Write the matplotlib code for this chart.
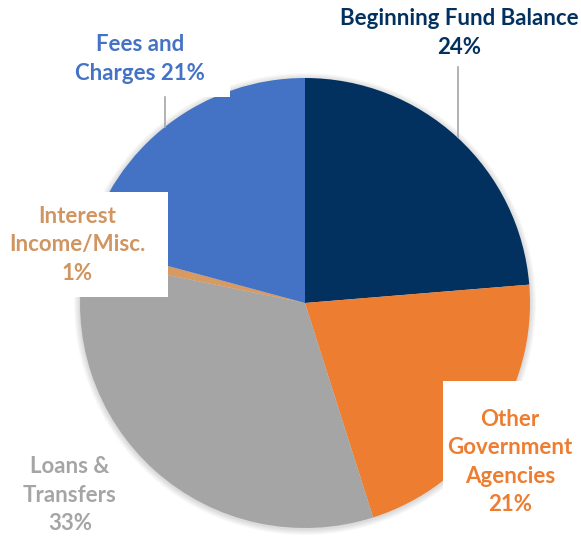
import matplotlib.pyplot as plt
from matplotlib.patches import Rectangle, Circle

# slice data (clockwise from 12 o'clock)
labels = ["Beginning Fund Balance", "Other Government Agencies", "Loans & Transfers",
          "Interest Income/Misc.", "Fees and Charges"]
shares = [23.7, 21.4, 33.1, 1.0, 20.8]
pct_text = ["24%", "21%", "33%", "1%", "21%"]
colors = ["#03315F", "#ED7D31", "#A5A5A5", "#D69A62", "#4472C4"]
label_colors = ["#03315F", "#ED7D31", "#A5A5A5", "#D09560", "#4472C4"]

W, H = 581, 538
fig = plt.figure(figsize=(W / 100, H / 100), dpi=100)
ax = fig.add_axes([0, 0, 1, 1])


def py(y):
    # pixel row -> data y
    return H - y


cx, cy, r = 305, py(303), 225

# soft shadow
for k in range(6):
    ax.add_patch(Circle((cx, cy - 1), r + 1 + k, color="#000000", alpha=0.025, lw=0, zorder=1))

ax.pie(shares, colors=colors, startangle=90, counterclock=False, center=(cx, cy),
       radius=r, frame=True, wedgeprops={"linewidth": 0, "zorder": 2})
ax.set_xlim(0, W)
ax.set_ylim(0, H)
ax.set_aspect("equal")
ax.axis("off")

# white label boxes covering the pie
boxes = [
    (0, 0, 230, 97),      # fees
    (0, 192, 168, 297),   # interest
    (0, 447, 125, 538),   # loans
    (443, 381, 581, 538), # other gov
]
for x0, y0, x1, y1 in boxes:
    ax.add_patch(Rectangle((x0, py(y1)), x1 - x0, y1 - y0, color="white", lw=0, zorder=3))

# leader lines
ax.plot([458, 458], [py(67), py(137)], color="#A6A6A6", lw=1.2, zorder=4)
ax.plot([165, 165], [py(97), py(127)], color="#A6A6A6", lw=1.2, zorder=4)

font = dict(family="Lato", fontweight="bold", fontsize=16, ha="center", va="center",
            linespacing=1.42, zorder=5)
ax.text(459, py(33), f"{labels[0]}\n{pct_text[0]}", color=label_colors[0], **font)
ax.text(510, py(462), f"Other\nGovernment\nAgencies\n{pct_text[1]}", color=label_colors[1], **font)
ax.text(70, py(495), f"Loans &\nTransfers\n{pct_text[2]}", color=label_colors[2], **font)
ax.text(77, py(245), f"Interest\nIncome/Misc.\n{pct_text[3]}", color=label_colors[3], **font)
ax.text(140, py(59), f"Fees and\nCharges {pct_text[4]}", color=label_colors[4], **font)

fig.savefig("out.png", dpi=100)
